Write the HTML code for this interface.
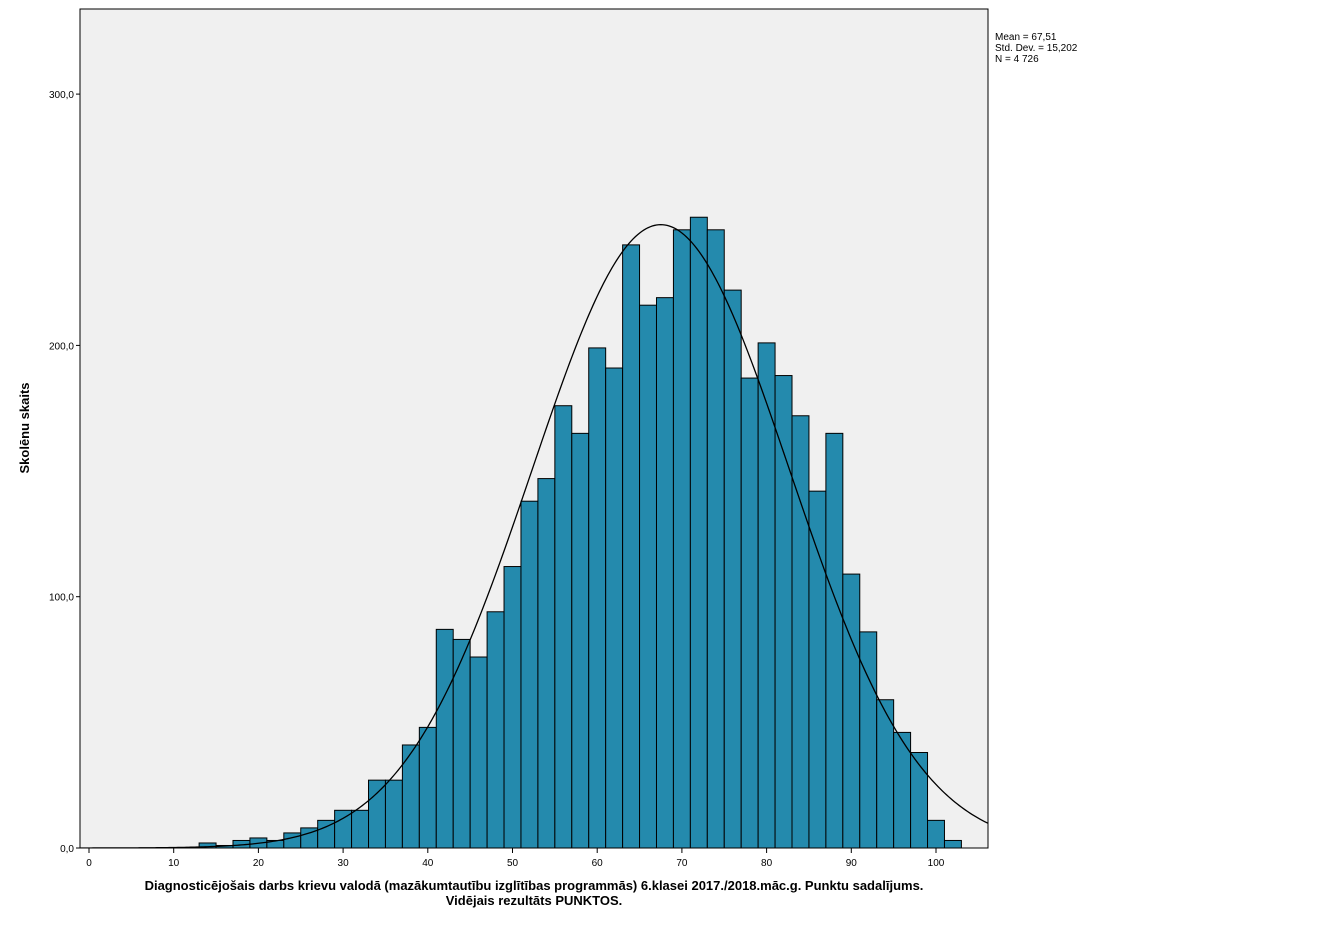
<!DOCTYPE html>
<html><head><meta charset="utf-8"><style>
body{margin:0;background:#fff;}
svg{display:block;font-family:"Liberation Sans",Arial,sans-serif;}
</style></head><body>
<svg id="chart" width="1318" height="926">
<defs><clipPath id="pc"><rect x="80" y="9" width="908" height="839"/></clipPath></defs>
<rect x="80" y="9" width="908" height="839" fill="#f0f0f0" stroke="#000" stroke-width="1"/>
<g id="bars"></g>
<g id="curve" clip-path="url(#pc)"></g>
<g id="yaxis"></g>
<g id="xaxis"></g>
<text x="29" y="428" transform="rotate(-90 29 428)" text-anchor="middle" font-size="13" font-weight="bold">Skolēnu skaits</text>
<text x="534" y="890" text-anchor="middle" font-size="13" font-weight="bold">Diagnosticējošais darbs krievu valodā (mazākumtautību izglītības programmās) 6.klasei 2017./2018.māc.g. Punktu sadalījums.</text>
<text x="534" y="905" text-anchor="middle" font-size="13" font-weight="bold">Vidējais rezultāts PUNKTOS.</text>
<g font-size="10">
<text x="995" y="40">Mean = 67,51</text>
<text x="995" y="51">Std. Dev. = 15,202</text>
<text x="995" y="62">N = 4 726</text>
</g>
</svg>
<script>
const binStarts=[13,15,17,19,21,23,25,27,29,31,33,35,37,39,41,43,45,47,49,51,53,55,57,59,61,63,65,67,69,71,73,75,77,79,81,83,85,87,89,91,93,95,97,99,101];
const counts=[2,1,3,4,3,6,8,11,15,15,27,27,41,48,87,83,76,94,112,138,147,176,165,199,191,240,216,219,246,251,246,222,187,201,188,172,142,165,109,86,59,46,38,11,3];
const binWidth=2;
const yTicks=[0,100,200,300];
const yTickLabels=["0,0","100,0","200,0","300,0"];
const xTicks=[0,10,20,30,40,50,60,70,80,90,100];
const mean=67.51, sd=15.202, N=4726;
const NS="http://www.w3.org/2000/svg";
function sx(v){return 89+v*8.47;}
function sy(v){return 848-v*2.513;}
function mk(t,a,p){const e=document.createElementNS(NS,t);for(const k in a)e.setAttribute(k,a[k]);p.appendChild(e);return e;}
const bars=document.getElementById('bars');
binStarts.forEach((b,i)=>{
 const r=mk('rect',{x:sx(b),y:sy(counts[i]),width:sx(b+binWidth)-sx(b),height:sy(0)-sy(counts[i]),fill:'#248aad',stroke:'#000','stroke-width':1},bars);
 
 
});
let d='';
for(let x=-1;x<=107;x+=0.25){const y=N*binWidth/(sd*Math.sqrt(2*Math.PI))*Math.exp(-0.5*((x-mean)/sd)**2);d+=(d?'L':'M')+sx(x).toFixed(2)+','+sy(y).toFixed(2);}
const c=mk('path',{d:d,fill:'none',stroke:'#000','stroke-width':1.3},document.getElementById('curve'));


const ya=document.getElementById('yaxis');
yTicks.forEach((v,i)=>{
 const l=mk('line',{x1:76,x2:80,y1:sy(v),y2:sy(v),stroke:'#000'},ya);
 
 
 const t=mk('text',{x:74,y:sy(v)+4,'text-anchor':'end','font-size':10},ya);
 t.textContent=yTickLabels[i];
 
 
});
const xa=document.getElementById('xaxis');
xTicks.forEach(v=>{
 const l=mk('line',{x1:sx(v),x2:sx(v),y1:848,y2:853,stroke:'#000'},xa);
 
 
 const t=mk('text',{x:sx(v),y:866,'text-anchor':'middle','font-size':10},xa);
 t.textContent=v;
 
 
});
</script>
</body></html>
